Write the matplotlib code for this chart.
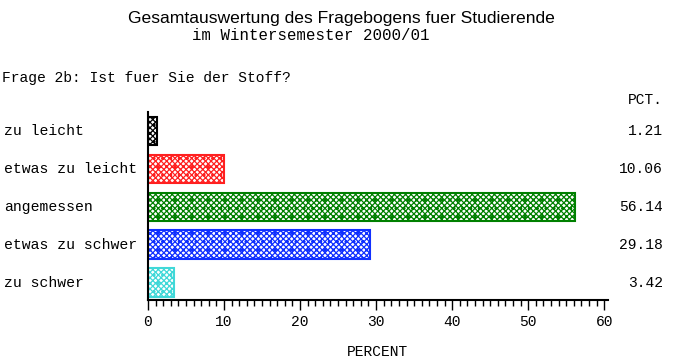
import matplotlib
matplotlib.use("Agg")
import matplotlib.pyplot as plt
from matplotlib.ticker import MultipleLocator
from matplotlib.transforms import blended_transform_factory

categories = ["zu leicht", "etwas zu leicht", "angemessen", "etwas zu schwer", "zu schwer"]
values = [1.21, 10.06, 56.14, 29.18, 3.42]
colors = ["#000000", "#FF2020", "#008000", "#1030FF", "#40D8D8"]
xticks = [0, 10, 20, 30, 40, 50, 60]

mono = "Liberation Mono"
plt.rcParams["hatch.linewidth"] = 0.9

fig = plt.figure(figsize=(6.85, 3.64), dpi=100)
ax = fig.add_axes([148/685, 64/364, 460/685, 188/364])

ypos = list(range(len(categories)))
for y, v, c in zip(ypos, values, colors):
    ax.barh(y, v, height=0.76, facecolor="white", edgecolor=c, hatch="xxxxxx..", linewidth=1.5)

ax.set_ylim(4.45, -0.5)
ax.set_xlim(0, 60.5)
ax.spines["top"].set_visible(False)
ax.spines["right"].set_visible(False)
ax.spines["left"].set_linewidth(1.5)
ax.spines["bottom"].set_linewidth(1.5)
ax.set_yticks([])
ax.set_xticks(xticks)
ax.xaxis.set_minor_locator(MultipleLocator(1))
ax.tick_params(axis="x", which="major", length=7, width=1, direction="out", pad=4)
ax.tick_params(axis="x", which="minor", length=4, width=1, direction="out")
for lab in ax.get_xticklabels():
    lab.set_fontfamily(mono)
    lab.set_fontsize(10.5)
ax.set_xlabel("PERCENT", fontfamily=mono, fontsize=10.5, labelpad=11)

tr = blended_transform_factory(fig.transFigure, ax.transData)
for y, cat, v in zip(ypos, categories, values):
    fig.text(4/685, y, cat, transform=tr, ha="left", va="center", fontfamily=mono, fontsize=10.6)
    fig.text(663/685, y, f"{v:.2f}", transform=tr, ha="right", va="center", fontfamily=mono, fontsize=10.5)

fig.text(663/685, 1 - 100/364, "PCT.", ha="right", va="center", fontfamily=mono, fontsize=10.5)
fig.text(341/685, 1 - 18/364, "Gesamtauswertung des Fragebogens fuer Studierende",
         ha="center", va="center", fontfamily="Liberation Sans", fontsize=12.6)
fig.text(311/685, 1 - 36/364, "im Wintersemester 2000/01", ha="center", va="center",
         fontfamily=mono, fontsize=11.3)
fig.text(2/685, 1 - 78/364, "Frage 2b: Ist fuer Sie der Stoff?", ha="left", va="center",
         fontfamily=mono, fontsize=10.5)

fig.savefig("out.png", dpi=100)
